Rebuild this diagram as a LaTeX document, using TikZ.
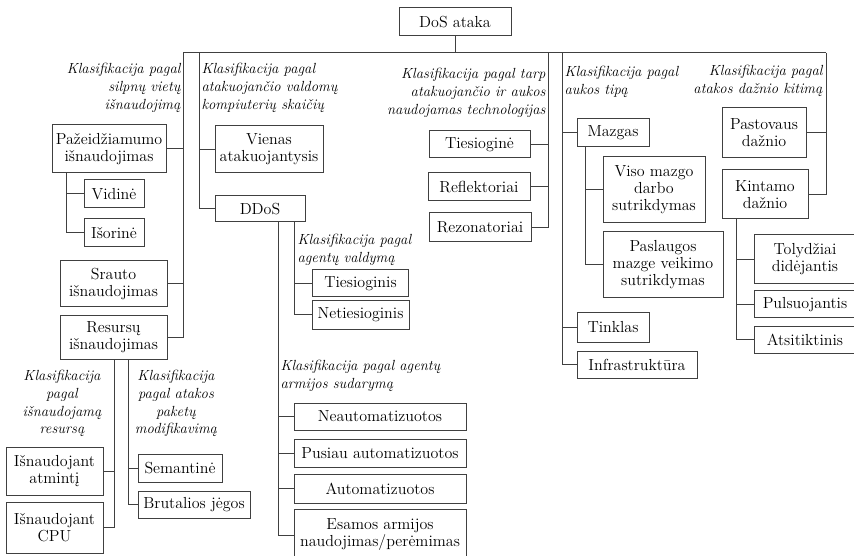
\documentclass[tikz,border=0pt]{standalone}
\usepackage{fontspec}
\usetikzlibrary{calc, positioning}

\begin{document}
\begin{tikzpicture}[x=0.75pt, y=-0.75pt, line width=0.75pt,
    every node/.style={font=\rmfamily\fontsize{12}{12.75}\selectfont},
    blk/.style 2 args={draw=black!75, align=center, inner sep=1pt,
      minimum width=#1*0.75pt, minimum height=#2*0.75pt},
    klas/.style={font=\rmfamily\fontsize{11}{13.2}\selectfont\itshape, inner sep=0pt},
    conn/.style={draw=black!75}]
    \useasboundingbox (0,0) rectangle (854,556);

    \node[blk={112}{28}] (dos) at (455,22) {DoS ataka};

    % silpnu vietu isnaudojimas
    \node[blk={114}{48}] (pazeid) at (109,149) {Pažeidžiamumo\\išnaudojimas};
    \node[blk={60}{28}] (vidine) at (114,194) {Vidinė};
    \node[blk={60}{28}] (isorine) at (114,233) {Išorinė};
    \node[blk={107}{46}] (srauto) at (113.5,284) {Srauto\\išnaudojimas};
    \node[blk={107}{43}] (resursu) at (113.5,337.5) {Resursų\\išnaudojimas};
    \node[blk={97}{48}] (atminti) at (54.5,471) {Išnaudojant\\atmintį};
    \node[blk={97}{51}] (cpu) at (54.5,527.5) {Išnaudojant\\CPU};
    \node[blk={84}{28}] (semantine) at (180,468) {Semantinė};
    \node[blk={112}{27}] (brutalios) at (194,504.5) {Brutalios jėgos};

    % valdomu kompiuteriu skaicius
    \node[blk={108}{47}] (vienas) at (269,149.5) {Vienas\\atakuojantysis};
    \node[blk={90}{26}] (ddos) at (260,209) {DDoS};
    \node[blk={96}{27}] (tiesioginis) at (360.5,283.5) {Tiesioginis};
    \node[blk={97}{28}] (netiesioginis) at (360.5,315) {Netiesioginis};
    \node[blk={172}{27}] (neautom) at (380,416.5) {Neautomatizuotos};
    \node[blk={172}{28}] (pusiau) at (380,453) {Pusiau automatizuotos};
    \node[blk={172}{29}] (autom) at (380,488.5) {Automatizuotos};
    \node[blk={172}{52}] (esamos) at (380,535) {Esamos armijos\\naudojimas/perėmimas};

    % technologijos
    \node[blk={101}{27}] (tiesiogine) at (479.5,144.5) {Tiesioginė};
    \node[blk={102}{28}] (reflektoriai) at (479,187) {Reflektoriai};
    \node[blk={102}{29}] (rezonatoriai) at (480,227.5) {Rezonatoriai};

    % aukos tipas
    \node[blk={72}{28}] (mazgas) at (613,133) {Mazgas};
    \node[blk={102}{66}] (viso) at (654,190) {Viso mazgo\\darbo\\sutrikdymas};
    \node[blk={120}{66}] (paslaugos) at (663,265) {Paslaugos\\mazge veikimo\\sutrikdymas};
    \node[blk={72}{29}] (tinklas) at (613,327.5) {Tinklas};
    \node[blk={120}{27}] (infra) at (637,364.5) {Infrastruktūra};

    % daznio kitimas
    \node[blk={84}{50}] (pastovaus) at (764,133) {Pastovaus\\dažnio};
    \node[blk={86}{49}] (kintamo) at (765,194.5) {Kintamo\\dažnio};
    \node[blk={102}{49}] (tolydziai) at (805,259.5) {Tolydžiai\\didėjantis};
    \node[blk={102}{27}] (pulsuojantis) at (805,304.5) {Pulsuojantis};
    \node[blk={102}{27}] (atsitiktinis) at (805,339.5) {Atsitiktinis};

    % klasifikaciju uzrasai
    \node[klas, anchor=north east, align=right] (k1) at (181,63) {Klasifikacija pagal\\silpnų vietų\\išnaudojimą};
    \node[klas, anchor=north west, align=left] (k2) at (201,63) {Klasifikacija pagal\\atakuojančio valdomų\\kompiuterių skaičių};
    \node[klas, anchor=north east, align=right] (k3) at (546,68) {Klasifikacija pagal tarp\\atakuojančio ir aukos\\naudojamas technologijas};
    \node[klas, anchor=north west, align=left] (k4) at (564,66) {Klasifikacija pagal\\aukos tipą};
    \node[klas, anchor=north east, align=right] (k5) at (823,65) {Klasifikacija pagal\\atakos dažnio kitimą};
    \node[klas, anchor=north west, align=left] (k6) at (297,234) {Klasifikacija pagal\\agentų valdymą};
    \node[klas, anchor=north west, align=left] (k7) at (280,360) {Klasifikacija pagal agentų\\armijos sudarymą};
    \node[klas, anchor=north, align=center] (k8) at (62,370) {Klasifikacija\\pagal\\išnaudojamą\\resursą};
    \node[klas, anchor=north, align=center] (k9) at (176,370) {Klasifikacija\\pagal atakos\\paketų\\modifikavimą};

    % pagrindine juosta
    \coordinate (bar w) at (183,53);
    \coordinate (bar e) at (826,53);
    \coordinate (br2) at (199,53);
    \coordinate (br3) at (548,53);
    \coordinate (br4) at (562,53);
    \draw[conn] (dos.south) -- (dos.south |- bar w);
    \draw[conn] (bar w) -- (bar e);

    \foreach \n in {pazeid, srauto, resursu}
      \draw[conn] (bar w) |- (\n.east);
    \foreach \n in {vienas, ddos}
      \draw[conn] (br2) |- (\n.west);
    \foreach \n in {tiesiogine, reflektoriai, rezonatoriai}
      \draw[conn] (br3) |- (\n.east);
    \foreach \n in {mazgas, tinklas, infra}
      \draw[conn] (br4) |- (\n.west);
    \foreach \n in {pastovaus, kintamo}
      \draw[conn] (bar e) |- (\n.east);

    % antro lygio sakos
    \foreach \n in {vidine, isorine}
      \draw[conn] ($(pazeid.south west)+(15,0)$) |- (\n.west);
    \foreach \n in {atminti, cpu}
      \draw[conn] ($(resursu.south)+(0.5,0)$) |- (\n.east);
    \foreach \n in {semantine, brutalios}
      \draw[conn] ($(resursu.south)+(14.5,0)$) |- (\n.west);
    \foreach \n in {tiesioginis, netiesioginis}
      \draw[conn] ($(ddos.south)+(34,0)$) |- (\n.west);
    \foreach \n in {neautom, pusiau, autom, esamos}
      \draw[conn] ($(ddos.south)+(18,0)$) |- (\n.west);
    \foreach \n in {viso, paslaugos}
      \draw[conn] ($(mazgas.south west)+(9,0)$) |- (\n.west);
    \foreach \n in {tolydziai, pulsuojantis, atsitiktinis}
      \draw[conn] ($(kintamo.south west)+(15,0)$) |- (\n.west);
  \end{tikzpicture}
\end{document}
